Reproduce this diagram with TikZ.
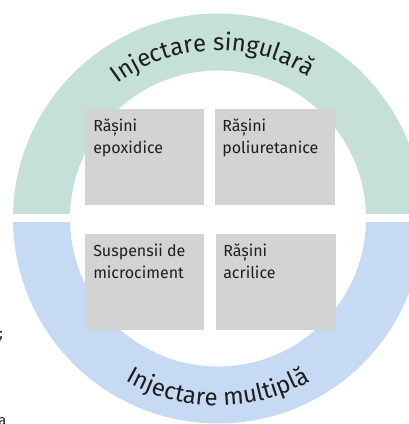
\documentclass[tikz,border=0pt]{standalone}
\usepackage{fontspec}
\setmainfont{Fira Sans}
\usetikzlibrary{decorations.text}
\definecolor{ringgreen}{RGB}{196,224,216}
\definecolor{ringblue}{RGB}{198,219,243}
\definecolor{cellgray}{RGB}{211,211,211}
\definecolor{inkgray}{RGB}{30,30,30}
\begin{document}
\begin{tikzpicture}[x=0.75pt,y=0.75pt,
  cell/.style={fill=cellgray,minimum width=89.25pt,minimum height=72pt,inner sep=0pt,outer sep=0pt},
  celltext/.style={anchor=north west,align=left,inner sep=0pt,text=inkgray,font=\fontsize{12}{16.5}\selectfont},
  edgetext/.style={anchor=west,inner sep=0pt,text=inkgray,font=\fontsize{11}{13}\selectfont}]
\useasboundingbox (0,0) rectangle (409,424);
\clip (0,0) rectangle (409,424);
\coordinate (c) at (218,205.5);
\begin{scope}
\clip (0,210) rectangle (409,424);
\fill[ringgreen,even odd rule] (c) circle[radius=205] (c) circle[radius=148];
\end{scope}
\begin{scope}
\clip (0,0) rectangle (409,201);
\fill[ringblue,even odd rule] (c) circle[radius=205] (c) circle[radius=148];
\end{scope}
\path[decorate,decoration={text along path,text align=center,text color=inkgray,
  text={|\fontsize{18}{18}\selectfont|Injectare singulară}}] ([shift={(182:168)}]c) arc[start angle=182,end angle=2,radius=168];
\path[decorate,decoration={text along path,text align=center,text color=inkgray,
  text={|\fontsize{18}{18}\selectfont|Injectare multiplă}}] ([shift={(180:187)}]c) arc[start angle=180,end angle=360,radius=187];
\node[cell,minimum width=89.25pt] (epoxy) at (144.5,267) {};
\node[cell,minimum width=90pt] (poly) at (275,267) {};
\node[cell,minimum width=89.25pt] (micro) at (144.5,142) {};
\node[cell,minimum width=90pt] (acryl) at (276,142) {};
\node[celltext] (epoxyt) at ([shift={(8,-10)}]epoxy.north west) {Rășini\\epoxidice};
\node[celltext] (polyt) at ([shift={(7,-10)}]poly.north west) {Rășini\\poliuretanice};
\node[celltext] (microt) at ([shift={(8,-10)}]micro.north west) {Suspensii de\\microciment};
\node[celltext] (acrylt) at ([shift={(7,-10)}]acryl.north west) {Rășini\\acrilice};
\node[edgetext] (e1) at (-3,212) {,};
\node[edgetext] (e2) at (-1,88) {;};
\node[edgetext] (e3) at (-2,2) {a};
\end{tikzpicture}
\end{document}
